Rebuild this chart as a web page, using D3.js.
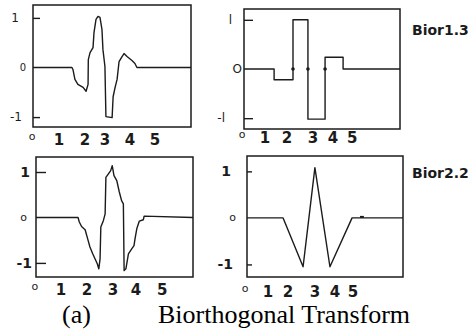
<!DOCTYPE html>
<html>
<head>
<meta charset="utf-8">
<script src="https://cdn.jsdelivr.net/npm/d3@7"></script>
<style>
  body { margin: 0; background: #fff; }
  svg { display: block; }
</style>
</head>
<body>
<svg id="chart" width="471" height="332"></svg>
<script>
// Bior1.3 decomposition wavelet (top left)
const bior13DecX = [0, 1.57, 1.61, 1.69, 1.81, 2.02, 2.14, 2.22, 2.23, 2.30, 2.42, 2.46, 2.54, 2.62, 2.70, 2.78, 2.82, 2.90, 2.94, 3.19, 3.23, 3.31, 3.39, 3.47, 3.59, 3.67, 3.79, 3.99, 4.11, 4.19, 6.37];
const bior13DecY = [0, 0, -0.04, -0.24, -0.34, -0.40, -0.48, -0.34, 0.16, 0.30, 0.40, 0.71, 0.97, 1.03, 1.01, 0.77, 0.36, 0.02, -0.99, -1.01, -0.59, -0.40, -0.24, 0.12, 0.22, 0.28, 0.22, 0.14, 0.08, 0, 0];

// Bior1.3 reconstruction wavelet (top right), step function
const bior13RecX = [0, 1.37, 1.37, 2.23, 2.23, 2.91, 2.91, 3.69, 3.69, 4.51, 4.51, 7.1];
const bior13RecY = [0, 0, -0.22, -0.22, 1.0, 1.0, -1.02, -1.02, 0.24, 0.24, 0, 0];
const bior13RecDots = [2.23, 2.91, 3.69];

// Bior2.2 decomposition wavelet (bottom left)
const bior22DecX = [0, 1.66, 1.71, 1.80, 1.94, 2.03, 2.13, 2.24, 2.33, 2.42, 2.48, 2.53, 2.56, 2.66, 2.73, 2.76, 2.86, 2.95, 3.01, 3.08, 3.19, 3.29, 3.38, 3.45, 3.48, 3.55, 3.65, 3.78, 3.87, 3.91, 3.98, 4.08, 4.24, 4.27, 6.2];
const bior22DecY = [0, 0, -0.10, -0.20, -0.27, -0.45, -0.65, -0.80, -0.91, -1.02, -1.13, -0.91, -0.21, -0.07, 0.08, 0.88, 0.96, 1.03, 1.14, 0.92, 0.81, 0.56, 0.37, 0.30, -1.17, -1.13, -0.80, -0.69, -0.62, -0.47, -0.25, -0.08, -0.05, 0.03, 0];

// Bior2.2 reconstruction wavelet (bottom right)
const bior22RecX = [0, 1.68, 2.61, 3.16, 3.86, 4.89, 7.26];
const bior22RecY = [0, 0, -1.05, 1.08, -1.05, 0, 0];
const bior22RecDash = [5.26, 5.44];

const xTickLabels = ["o", "1", "2", "3", "4", "5"];
const p1TickPos = [-0.04, 1.05, 2.10, 2.90, 3.91, 4.92];
const p2TickPos = [-0.09, 0.96, 1.96, 3.14, 4.05, 4.92];
const p3TickPos = [-0.04, 0.99, 2.01, 3.04, 3.95, 4.98];
const p4TickPos = [-0.09, 0.98, 1.91, 3.16, 4.09, 4.93];

const yTickValues = [1, 0, -1];
const topLeftYLabels = ["1", "0", "-1"];
const topRightYLabels = ["l", "O", "-l"];
const bottomYLabels = ["1", "o", "-1"];

const waveletNames = ["Bior1.3", "Bior2.2"];
const captionTag = "(a)";
const captionText = "Biorthogonal Transform";

const ink = "#1b1b1b";
const svg = d3.select("#chart");

const panels = [
  {xs: bior13DecX, ys: bior13DecY, ticks: p1TickPos, yLabels: topLeftYLabels,
   box: [33, 5, 191, 127], xDom: [0, 6.37], yDom: [-1.2, 1.26],
   tickLen: 7, yDx: [-14, -7, -11], ySize: [12, 10, 12], yWeight: "normal", labelY: 145},
  {xs: bior13RecX, ys: bior13RecY, ticks: p2TickPos, yLabels: topRightYLabels,
   box: [244, 9, 400, 129], xDom: [0, 7.1], yDom: [-1.22, 1.22],
   tickLen: 9, yDx: [-12, -2, -19], ySize: [12, 12, 12], yWeight: "normal", labelY: 143,
   dots: bior13RecDots},
  {xs: bior22DecX, ys: bior22DecY, ticks: p3TickPos, yLabels: bottomYLabels,
   box: [36, 157, 193, 277], xDom: [0, 6.2], yDom: [-1.31, 1.33],
   tickLen: 10, yDx: [-6, -9, -4], ySize: [14, 11, 14], yWeight: "bold", labelY: 295},
  {xs: bior22RecX, ys: bior22RecY, ticks: p4TickPos, yLabels: bottomYLabels,
   box: [247, 156, 403, 277], xDom: [0, 7.26], yDom: [-1.27, 1.33],
   tickLen: 5, yDx: [-16, -11, -14], ySize: [14, 11, 14], yWeight: "bold", labelY: 297,
   dash: bior22RecDash}
];

panels.forEach(p => {
  const x = d3.scaleLinear().domain(p.xDom).range([p.box[0], p.box[2]]);
  const y = d3.scaleLinear().domain(p.yDom).range([p.box[3], p.box[1]]);
  const g = svg.append("g");

  // y ticks pointing into the frame
  const yAxis = g.append("g")
    .attr("transform", "translate(" + p.box[0] + ",0)")
    .call(d3.axisLeft(y).tickValues([1, -1]).tickSize(-p.tickLen).tickFormat(""));
  yAxis.select(".domain").remove();
  yAxis.selectAll("line").attr("stroke", ink).attr("stroke-width", 1.4);

  g.selectAll("text.ylab")
    .data(yTickValues)
    .enter()
    .append("text")
    .attr("class", "ylab")
    .attr("x", (d, i) => p.box[0] + p.yDx[i])
    .attr("y", d => y(d))
    .attr("dominant-baseline", "central")
    .attr("text-anchor", "end")
    .attr("font-family", "DejaVu Sans, sans-serif")
    .attr("font-size", (d, i) => p.ySize[i])
    .attr("font-weight", (d, i) => d === 0 ? "normal" : p.yWeight)
    .attr("fill", ink)
    .text((d, i) => p.yLabels[i]);

  // x labels
  g.selectAll("text.xlab")
    .data(p.ticks)
    .enter()
    .append("text")
    .attr("class", "xlab")
    .attr("x", d => x(d))
    .attr("y", (d, i) => i === 0 ? p.labelY - 5 : p.labelY)
    .attr("text-anchor", "middle")
    .attr("font-family", "DejaVu Sans, sans-serif")
    .attr("font-size", (d, i) => i === 0 ? 11 : 15)
    .attr("font-weight", (d, i) => i === 0 ? "normal" : "bold")
    .attr("fill", ink)
    .text((d, i) => xTickLabels[i]);

  const line = d3.line()
    .x((d, i) => x(p.xs[i]))
    .y(d => y(d));

  g.append("path")
    .datum(p.ys)
    .attr("d", line)
    .attr("fill", "none")
    .attr("stroke", ink)
    .attr("stroke-width", 1.4)
    .attr("stroke-linejoin", "round");

  if (p.dots) {
    g.selectAll("circle")
      .data(p.dots)
      .enter()
      .append("circle")
      .attr("cx", d => x(d))
      .attr("cy", y(0))
      .attr("r", 1.8)
      .attr("fill", ink);
  }
  if (p.dash) {
    g.append("line")
      .attr("x1", x(p.dash[0]))
      .attr("x2", x(p.dash[1]))
      .attr("y1", y(0) - 1)
      .attr("y2", y(0) - 1)
      .attr("stroke", ink)
      .attr("stroke-width", 2);
  }

  g.append("rect")
    .attr("x", p.box[0])
    .attr("y", p.box[1])
    .attr("width", p.box[2] - p.box[0])
    .attr("height", p.box[3] - p.box[1])
    .attr("fill", "none")
    .attr("stroke", ink)
    .attr("stroke-width", 1.5);
});

// wavelet names on the right
svg.selectAll("text.name")
  .data(waveletNames)
  .enter()
  .append("text")
  .attr("class", "name")
  .attr("x", 412)
  .attr("y", (d, i) => i === 0 ? 35 : 178)
  .attr("font-family", "DejaVu Sans, sans-serif")
  .attr("font-size", 14)
  .attr("font-weight", "bold")
  .attr("fill", ink)
  .text(d => d);

svg.append("text")
  .attr("x", 62)
  .attr("y", 323)
  .attr("font-family", "Liberation Serif, Times New Roman, serif")
  .attr("font-size", 26)
  .attr("fill", "#000")
  .text(captionTag);

svg.append("text")
  .attr("x", 158)
  .attr("y", 323)
  .attr("font-family", "Liberation Serif, Times New Roman, serif")
  .attr("font-size", 26)
  .attr("fill", "#000")
  .text(captionText);
</script>
</body>
</html>
